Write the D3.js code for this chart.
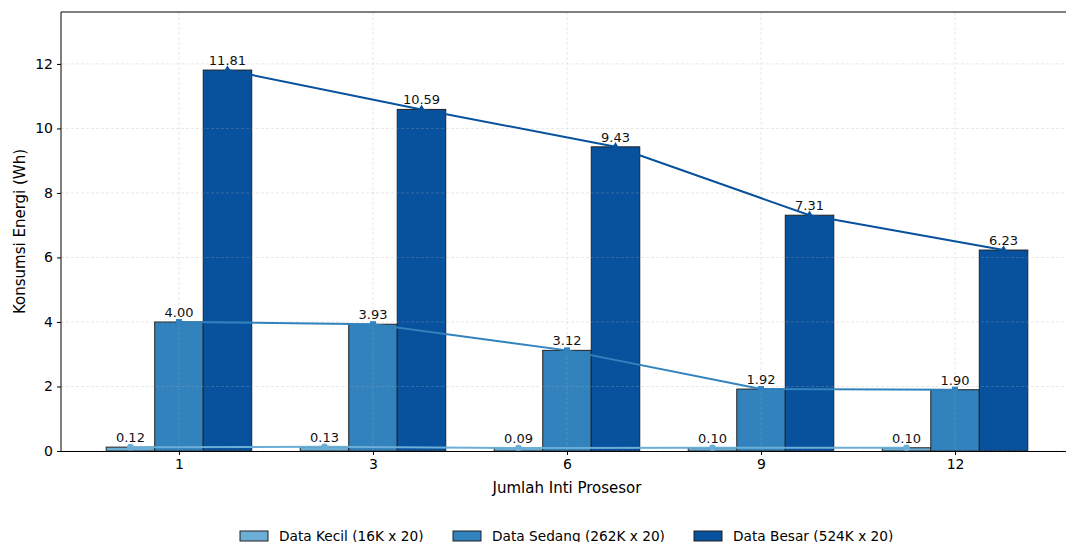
<!DOCTYPE html>
<html>
<head>
<meta charset="utf-8">
<script src="https://cdn.jsdelivr.net/npm/d3@7"></script>
<style>
  html, body { margin: 0; padding: 0; background: #fff; overflow: hidden; }
  svg { display: block; font-family: "DejaVu Sans", sans-serif; }
</style>
</head>
<body>
<svg id="chart" width="1066" height="542"></svg>
<script>
// Processor core counts (x categories)
const cores = ["1", "3", "6", "9", "12"];

// Energy consumption (Wh) per dataset size
const seriesNames = ["Data Kecil (16K x 20)", "Data Sedang (262K x 20)", "Data Besar (524K x 20)"];
const dataKecil  = [0.12, 0.13, 0.09, 0.10, 0.10];
const dataSedang = [4.00, 3.93, 3.12, 1.92, 1.90];
const dataBesar  = [11.81, 10.59, 9.43, 7.31, 6.23];

const yTicks = [0, 2, 4, 6, 8, 10, 12];

const series = [
  { name: seriesNames[0], values: dataKecil,  color: "#6baed6", marker: "circle",   offset: -1 },
  { name: seriesNames[1], values: dataSedang, color: "#3182bd", marker: "square",   offset: 0 },
  { name: seriesNames[2], values: dataBesar,  color: "#08519c", marker: "triangle", offset: 1 }
];

const svg = d3.select("#chart");
const plot = { left: 61, top: 12, right: 1073, bottom: 451 };
const barWidth = 0.25;

const x = d3.scaleLinear().domain([-0.608, cores.length - 1 + 0.608]).range([plot.left, plot.right]);
const y = d3.scaleLinear().domain([0, 13.61]).range([plot.bottom, plot.top]);

// bars
series.forEach(s => {
  svg.append("g").selectAll("rect").data(s.values).join("rect")
    .attr("x", (d, i) => x(i + s.offset * barWidth - barWidth / 2))
    .attr("width", x(barWidth) - x(0))
    .attr("y", d => y(d))
    .attr("height", d => y(0) - y(d))
    .attr("fill", s.color)
    .attr("stroke", "#222")
    .attr("stroke-width", 1);
});

// light dashed grid
const grid = svg.append("g");
grid.selectAll("line.gy").data(yTicks).join("line")
  .attr("x1", plot.left).attr("x2", plot.right)
  .attr("y1", d => y(d)).attr("y2", d => y(d))
  .attr("stroke", "#b0b0b0").attr("stroke-width", 0.8)
  .attr("stroke-dasharray", "3,2").attr("opacity", 0.35);
grid.selectAll("line.gx").data(cores).join("line")
  .attr("x1", (d, i) => x(i)).attr("x2", (d, i) => x(i))
  .attr("y1", plot.top).attr("y2", plot.bottom)
  .attr("stroke", "#b0b0b0").attr("stroke-width", 0.8)
  .attr("stroke-dasharray", "3,2").attr("opacity", 0.35);

// trend lines with markers
const line = d3.line();
series.forEach(s => {
  const pts = s.values.map((v, i) => [x(i + s.offset * barWidth), y(v)]);
  const g = svg.append("g");
  g.append("path").attr("d", line(pts))
    .attr("fill", "none").attr("stroke", s.color).attr("stroke-width", 2);
  const sym = s.marker === "circle" ? d3.symbolCircle : s.marker === "square" ? d3.symbolSquare : d3.symbolTriangle;
  g.selectAll("path.m").data(pts).join("path")
    .attr("transform", d => `translate(${d[0]},${d[1]})`)
    .attr("d", d3.symbol().type(sym).size(s.marker === "triangle" ? 30 : 36))
    .attr("fill", s.color);
  // value labels
  g.selectAll("text").data(s.values).join("text")
    .attr("x", (d, i) => x(i + s.offset * barWidth))
    .attr("y", d => y(d) - 5)
    .attr("text-anchor", "middle")
    .attr("font-size", "13px")
    .attr("fill", "#111")
    .text(d => d.toFixed(2));
});

// spines
svg.append("line").attr("x1", plot.left).attr("x2", plot.left).attr("y1", plot.top).attr("y2", plot.bottom)
  .attr("stroke", "#000").attr("stroke-width", 1);
svg.append("line").attr("x1", plot.left).attr("x2", plot.right).attr("y1", plot.top).attr("y2", plot.top)
  .attr("stroke", "#000").attr("stroke-width", 1);
svg.append("line").attr("x1", plot.right).attr("x2", plot.right).attr("y1", plot.top).attr("y2", plot.bottom)
  .attr("stroke", "#000").attr("stroke-width", 1);

// axes
const xAxis = d3.axisBottom(x).tickValues(d3.range(cores.length)).tickFormat(i => cores[i])
  .tickSizeInner(4).tickSizeOuter(0).tickPadding(4);
const gx = svg.append("g").attr("transform", `translate(0,${plot.bottom})`).call(xAxis);
gx.select(".domain").attr("stroke", "#000").attr("d", `M${plot.left},0.5H${plot.right}`);
gx.selectAll("text").attr("font-size", "14px").attr("fill", "#000").attr("font-family", "DejaVu Sans, sans-serif");

const yAxis = d3.axisLeft(y).tickValues(yTicks).tickSizeInner(4).tickSizeOuter(0).tickPadding(4);
const gy = svg.append("g").attr("transform", `translate(${plot.left},0)`).call(yAxis);
gy.select(".domain").remove();
gy.selectAll("text").attr("font-size", "14px").attr("fill", "#000").attr("font-family", "DejaVu Sans, sans-serif");

// axis titles
svg.append("text").attr("x", x(2)).attr("y", 493).attr("text-anchor", "middle")
  .attr("font-size", "15px").attr("fill", "#000").text("Jumlah Inti Prosesor");
svg.append("text").attr("transform", `translate(25,${(plot.top + plot.bottom) / 2}) rotate(-90)`)
  .attr("text-anchor", "middle").attr("font-size", "15px").attr("fill", "#000").text("Konsumsi Energi (Wh)");

// legend
const legendX = [240, 453, 694];
const legend = svg.append("g");
series.forEach((s, i) => {
  legend.append("rect").attr("x", legendX[i]).attr("y", 531).attr("width", 28).attr("height", 10)
    .attr("fill", s.color).attr("stroke", "#222").attr("stroke-width", 1);
  legend.append("text").attr("x", legendX[i] + 39).attr("y", 541)
    .attr("font-size", "13.7px").attr("fill", "#000").text(s.name);
});
</script>
</body>
</html>
